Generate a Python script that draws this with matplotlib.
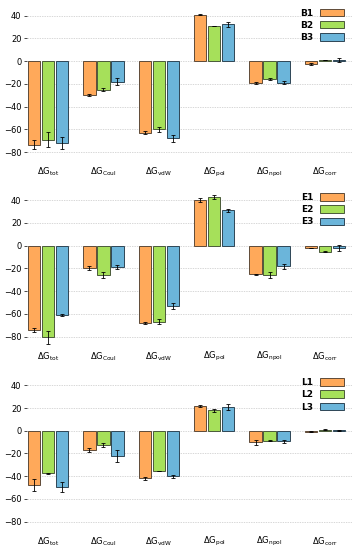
import numpy as np
from matplotlib import pyplot as plt

terms = ["tot", "Coul", "vdW", "pol", "npol", "corr"]

# panel 1 (B)
b1 = [-73.5, -30.0, -63.0, 41.0, -19.4, -2.4]
b2 = [-69.0, -25.0, -60.0, 30.6, -16.0, 1.0]
b3 = [-72.0, -18.0, -68.0, 32.4, -19.0, 1.0]
b1_err = [4.0, 1.0, 1.5, 0.5, 1.0, 1.0]
b2_err = [6.5, 1.5, 2.5, 0.0, 0.8, 0.3]
b3_err = [5.5, 3.0, 3.0, 2.0, 1.2, 2.0]

# panel 2 (E)
e1 = [-74.0, -19.7, -68.0, 40.3, -25.0, -2.0]
e2 = [-80.6, -26.0, -66.8, 43.0, -25.9, -5.3]
e3 = [-61.0, -18.8, -53.0, 31.0, -18.2, -2.0]
e1_err = [2.0, 2.0, 0.8, 1.5, 0.5, 0.3]
e2_err = [5.5, 2.5, 2.5, 2.0, 2.5, 0.5]
e3_err = [1.0, 2.0, 3.0, 1.2, 2.0, 2.5]

# panel 3 (L)
l1 = [-47.6, -16.8, -41.8, 21.5, -10.3, -0.9]
l2 = [-37.4, -12.4, -35.3, 18.0, -8.8, 0.9]
l3 = [-49.7, -22.4, -40.0, 21.0, -9.4, 0.4]
l1_err = [5.0, 1.5, 1.3, 1.0, 2.0, 0.3]
l2_err = [0.5, 1.5, 0.3, 1.3, 0.5, 0.3]
l3_err = [4.5, 5.5, 1.5, 2.5, 1.5, 0.2]

panels = [
    (["B1", "B2", "B3"], [b1, b2, b3], [b1_err, b2_err, b3_err]),
    (["E1", "E2", "E3"], [e1, e2, e3], [e1_err, e2_err, e3_err]),
    (["L1", "L2", "L3"], [l1, l2, l3], [l1_err, l2_err, l3_err]),
]

colores = ["#ffa95a", "#a6e05a", "#6bb5da"]
bordes = ["#5e4a38", "#4a5a3a", "#2e4656"]

plt.rcParams["mathtext.fontset"] = "dejavusans"

fig = plt.figure(figsize=(3.6, 5.5), dpi=100)
bottoms = [0.709, 0.3735, 0.037]

x = np.arange(len(terms))
w = 0.225
for (labels, series, errs), bot in zip(panels, bottoms):
    ax = fig.add_axes([0.075, bot, 0.903, 0.279])
    for i in range(3):
        ax.bar(x + (i - 1) * 0.252, series[i], w, yerr=errs[i], color=colores[i],
               edgecolor=bordes[i], linewidth=0.7, label=labels[i], zorder=3,
               error_kw=dict(ecolor="k", elinewidth=0.6, capsize=1.5, capthick=0.6, zorder=4))
    ax.set_xlim(-0.38, 5.49)
    ax.set_ylim(-87, 48)
    ax.set_yticks([-80, -60, -40, -20, 0, 20, 40])
    ax.set_xticks(x)
    ax.set_xticklabels([r"$\Delta\mathrm{G}_{\mathrm{%s}}$" % t for t in terms], fontsize=6)
    ax.tick_params(axis="x", length=0, pad=4)
    ax.tick_params(axis="y", length=2, width=0.5, labelsize=6, pad=2)
    ax.grid(True, axis="y", linestyle=(0, (2, 1.5)), color="#c8c8c8", linewidth=0.5, zorder=0)
    for s in ax.spines.values():
        s.set_visible(False)
    leg = ax.legend(loc="upper right", frameon=False, fontsize=6.5, markerfirst=False,
                    handlelength=2.6, handleheight=0.9, labelspacing=0.35,
                    bbox_to_anchor=(1.0, 1.04))
    for t in leg.get_texts():
        t.set_fontweight("bold")

plt.savefig("out.png")
